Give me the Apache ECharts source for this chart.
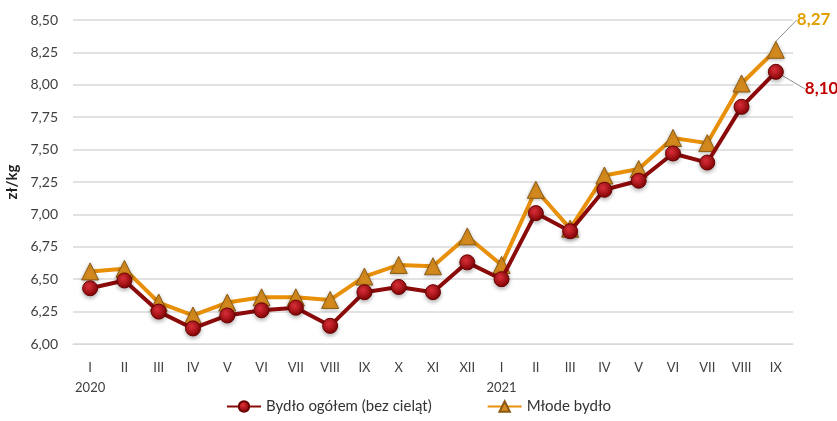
<!DOCTYPE html>
<html>
<head>
<meta charset="utf-8">
<script src="https://cdn.jsdelivr.net/npm/echarts@6/dist/echarts.min.js"></script>
<style>
  html, body { margin: 0; padding: 0; background: #fff; }
  #chart { width: 837px; height: 421px; }
</style>
</head>
<body>
<div id="chart"></div>
<script>
var months = ['I', 'II', 'III', 'IV', 'V', 'VI', 'VII', 'VIII', 'IX', 'X', 'XI', 'XII',
  'I', 'II', 'III', 'IV', 'V', 'VI', 'VII', 'VIII', 'IX'];
var years = { 0: '2020', 12: '2021' };
var bydloOgolem = [6.43, 6.49, 6.25, 6.12, 6.22, 6.26, 6.28, 6.14, 6.40, 6.44, 6.40, 6.63,
  6.50, 7.01, 6.87, 7.19, 7.26, 7.47, 7.40, 7.83, 8.10];
var mlodeBydlo = [6.56, 6.58, 6.32, 6.22, 6.32, 6.36, 6.36, 6.34, 6.52, 6.61, 6.60, 6.83,
  6.61, 7.19, 6.89, 7.30, 7.35, 7.59, 7.55, 8.01, 8.27];

var font = 'Lato';
function pl(v) { return v.toFixed(2).replace('.', ','); }

// tylko ostatni punkt dostaje etykietę z linią odniesienia
function withEndLabel(arr, color, distance) {
  return arr.map(function (v, i) {
    if (i !== arr.length - 1) return v;
    return {
      value: v,
      label: {
        show: true,
        position: 'right',
        distance: distance,
        color: color,
        fontSize: 17,
        fontWeight: 'bold',
        fontFamily: font,
        formatter: function (p) { return pl(p.value); }
      },
      labelLine: { show: true, lineStyle: { color: '#8c8c8c', width: 1 } }
    };
  });
}

var chart = echarts.init(document.getElementById('chart'));
var last = months.length - 1;

var option = {
  textStyle: { fontFamily: font },
  grid: { left: 73, right: 44, top: 20, bottom: 77, outerBoundsMode: 'none' },
  legend: {
    bottom: 2,
    left: 'center',
    itemGap: 55,
    itemWidth: 34,
    itemHeight: 13,
    textStyle: { fontSize: 15, color: '#333', fontFamily: font },
    data: ['Bydło ogółem (bez cieląt)', 'Młode bydło']
  },
  xAxis: {
    type: 'category',
    data: months,
    boundaryGap: true,
    axisLine: { lineStyle: { color: '#d9d9d9' } },
    axisTick: { show: false },
    axisLabel: {
      color: '#404040',
      fontSize: 13,
      lineHeight: 20,
      margin: 14,
      interval: 0,
      formatter: function (v, i) {
        return years[i] ? v + '\n' + years[i] : v;
      }
    }
  },
  yAxis: {
    type: 'value',
    min: 6,
    max: 8.5,
    interval: 0.25,
    name: 'zł/kg',
    nameLocation: 'middle',
    nameGap: 48,
    nameTextStyle: { fontSize: 15, fontWeight: 'bold', color: '#222', fontFamily: font },
    axisLine: { show: false },
    axisTick: { show: false },
    axisLabel: { color: '#404040', fontSize: 14, margin: 15, formatter: pl },
    splitLine: { lineStyle: { color: '#d9d9d9', width: 1.5 } }
  },
  series: [
    {
      name: 'Bydło ogółem (bez cieląt)',
      type: 'line',
      data: withEndLabel(bydloOgolem, '#c00000', 21),
      symbol: 'circle',
      symbolSize: 15,
      z: 3,
      lineStyle: { color: '#8b0a0a', width: 4 },
      itemStyle: {
        color: new echarts.graphic.RadialGradient(0.4, 0.35, 0.7, [
          { offset: 0, color: '#e0303a' },
          { offset: 1, color: '#7a0000' }
        ]),
        borderColor: '#6a0000',
        borderWidth: 1,
        shadowColor: 'rgba(0,0,0,0.3)',
        shadowBlur: 4,
        shadowOffsetY: 2
      },
      labelLayout: function (p) {
        return p.dataIndex === last ? { dy: 17 } : {};
      }
    },
    {
      name: 'Młode bydło',
      type: 'line',
      data: withEndLabel(mlodeBydlo, '#e0a000', 5),
      symbol: 'triangle',
      symbolSize: 17,
      z: 2,
      lineStyle: { color: '#e8900a', width: 4 },
      itemStyle: {
        color: '#d68b1e',
        borderColor: '#8a5a14',
        borderWidth: 1,
        shadowColor: 'rgba(0,0,0,0.25)',
        shadowBlur: 4,
        shadowOffsetY: 1
      },
      labelLayout: function (p) {
        return p.dataIndex === last ? { dx: 7, dy: -30 } : {};
      }
    }
  ]
};
chart.setOption(option);
</script>
</body>
</html>
